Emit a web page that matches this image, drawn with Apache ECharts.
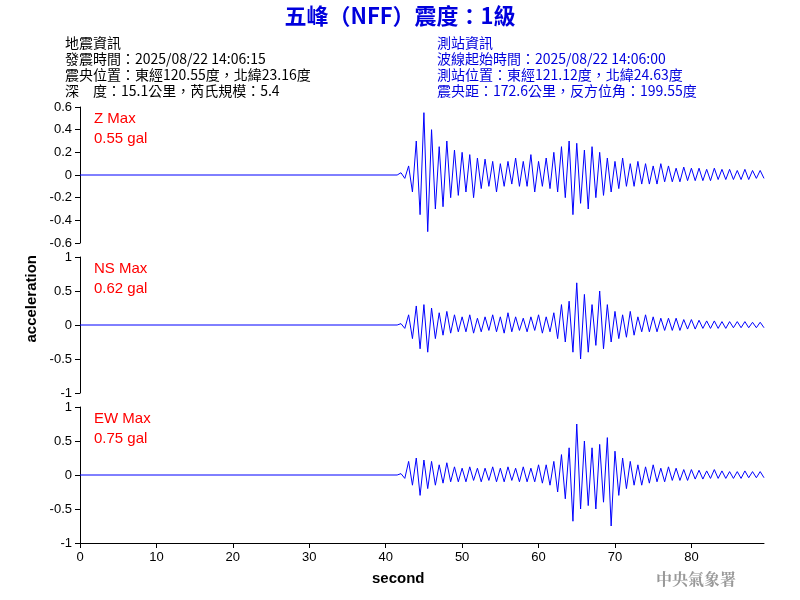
<!DOCTYPE html>
<html>
<head>
<meta charset="utf-8">
<script src="https://cdn.jsdelivr.net/npm/echarts@6/dist/echarts.min.js"></script>
<style>html,body{margin:0;padding:0;background:#fff}#chart{width:800px;height:600px}</style>
</head>
<body>
<div id="chart"></div>
<script>
// 波形資料：42秒起，每0.5秒一點
var startSec = 42, stepSec = 0.5;
var zValues = [0.02,-0.03,0.08,-0.15,0.3,-0.35,0.55,-0.5, 0.4,-0.3,0.25,-0.28,0.3,-0.2,0.22,-0.18,
  0.2,-0.15,0.18,-0.2,0.15,-0.12,0.14,-0.1, 0.12,-0.15,0.1,-0.1,0.12,-0.08,0.15,-0.1,
  0.12,-0.1,0.18,-0.15,0.12,-0.1,0.15,-0.12, 0.2,-0.15,0.25,-0.2,0.3,-0.35,0.28,-0.25,
  0.22,-0.3,0.25,-0.2,0.2,-0.18,0.15,-0.15, 0.12,-0.12,0.15,-0.1,0.1,-0.1,0.12,-0.08,
  0.1,-0.08,0.08,-0.08,0.1,-0.06,0.08,-0.06, 0.06,-0.06,0.07,-0.05,0.06,-0.05,0.06,-0.05,
  0.05,-0.05,0.06,-0.04,0.05,-0.04,0.05,-0.04, 0.04,-0.04,0.05,-0.04,0.04,-0.03,0.04,-0.03];
var nsValues = [0.02,-0.05,0.15,-0.2,0.28,-0.35,0.3,-0.4, 0.25,-0.2,0.18,-0.15,0.2,-0.12,0.15,-0.1,
  0.12,-0.1,0.15,-0.12,0.1,-0.1,0.12,-0.08, 0.15,-0.1,0.12,-0.12,0.18,-0.1,0.12,-0.08,
  0.1,-0.1,0.12,-0.08,0.15,-0.12,0.12,-0.1, 0.18,-0.2,0.3,-0.25,0.35,-0.4,0.62,-0.5,
  0.45,-0.4,0.3,-0.3,0.5,-0.35,0.3,-0.25, 0.2,-0.2,0.15,-0.18,0.2,-0.15,0.12,-0.1,
  0.15,-0.1,0.12,-0.1,0.1,-0.08,0.1,-0.08, 0.1,-0.08,0.08,-0.06,0.08,-0.06,0.07,-0.05,
  0.06,-0.05,0.06,-0.05,0.05,-0.05,0.05,-0.04, 0.05,-0.04,0.05,-0.04,0.04,-0.04,0.04,-0.04];
var ewValues = [0.02,-0.05,0.2,-0.15,0.25,-0.3,0.22,-0.2, 0.2,-0.15,0.15,-0.12,0.18,-0.1,0.12,-0.1,
  0.1,-0.1,0.12,-0.08,0.1,-0.1,0.1,-0.08, 0.12,-0.1,0.1,-0.1,0.12,-0.08,0.1,-0.1,
  0.12,-0.1,0.1,-0.1,0.15,-0.12,0.15,-0.15, 0.2,-0.25,0.3,-0.35,0.4,-0.68,0.75,-0.5,
  0.5,-0.45,0.4,-0.5,0.45,-0.4,0.55,-0.75, 0.35,-0.3,0.25,-0.2,0.2,-0.15,0.15,-0.15,
  0.12,-0.12,0.15,-0.1,0.1,-0.1,0.12,-0.08, 0.1,-0.08,0.08,-0.08,0.08,-0.06,0.07,-0.06,
  0.06,-0.05,0.08,-0.05,0.06,-0.05,0.05,-0.05, 0.05,-0.05,0.06,-0.04,0.05,-0.04,0.05,-0.04];
var maxLabels = ['Z Max', 'NS Max', 'EW Max'];
var maxValues = ['0.55 gal', '0.62 gal', '0.75 gal'];
var leftInfo = ['地震資訊', '發震時間：2025/08/22 14:06:15', '震央位置：東經120.55度，北緯23.16度', '深　度：15.1公里，芮氏規模：5.4'];
var rightInfo = ['測站資訊', '波線起始時間：2025/08/22 14:06:00', '測站位置：東經121.12度，北緯24.63度', '震央距：172.6公里，反方位角：199.55度'];

function toPoints(vals) {
  var pts = [[0, 0], [startSec - 0.5, 0]];
  for (var i = 0; i < vals.length; i++) pts.push([startSec + i * stepSec, vals[i]]);
  return pts;
}

var chart = echarts.init(document.getElementById('chart'));
var tops = [107, 257, 407];
var grids = [], xAxes = [], yAxes = [], series = [], graphics = [];
var all = [zValues, nsValues, ewValues];
var font = 'Arial, "Liberation Sans", sans-serif';
for (var k = 0; k < 3; k++) {
  grids.push({left: 80, right: 36, top: tops[k], height: 136});
  xAxes.push({type: 'value', gridIndex: k, min: 0, max: 89.5, interval: 10, show: k == 2,
    axisLine: {onZero: false, lineStyle: {color: '#000'}}, axisTick: {length: 5, lineStyle: {color: '#000'}},
    axisLabel: {color: '#000', fontSize: 13, fontFamily: font, showMaxLabel: false}, splitLine: {show: false}});
  yAxes.push({type: 'value', gridIndex: k, min: k == 0 ? -0.6 : -1, max: k == 0 ? 0.6 : 1, interval: k == 0 ? 0.2 : 0.5,
    axisLine: {show: true, lineStyle: {color: '#000'}}, axisTick: {show: true, length: 5, lineStyle: {color: '#000'}},
    axisLabel: {color: '#000', fontSize: 13, fontFamily: font, formatter: function (v) { return +v.toFixed(1); }},
    splitLine: {show: false}});
  series.push({type: 'line', xAxisIndex: k, yAxisIndex: k, data: toPoints(all[k]), symbol: 'none',
    lineStyle: {color: '#0000ff', width: 1}, animation: false});
  graphics.push({type: 'text', left: 94, top: tops[k] + 2, style: {text: maxLabels[k] + '\n' + maxValues[k],
    fill: '#ff0000', font: '15px ' + font, lineHeight: 20}});
}
graphics.push({type: 'text', left: 'center', top: 5, style: {text: '五峰（NFF）震度：1級', fill: '#0000dd',
  font: 'bold 22px "Noto Sans CJK TC", sans-serif'}});
graphics.push({type: 'text', left: 65, top: 35, style: {text: leftInfo.join('\n'), fill: '#000',
  font: '14px "Noto Sans CJK TC", sans-serif', lineHeight: 16}});
graphics.push({type: 'text', left: 437, top: 35, style: {text: rightInfo.join('\n'), fill: '#0000dd',
  font: '14px "Noto Sans CJK TC", sans-serif', lineHeight: 16}});
graphics.push({type: 'text', left: 24, top: 255, rotation: Math.PI / 2, style: {text: 'acceleration', fill: '#000',
  font: 'bold 15px ' + font}});
graphics.push({type: 'text', left: 372, top: 571, style: {text: 'second', fill: '#000', font: 'bold 15px ' + font}});
graphics.push({type: 'text', left: 656, top: 571, style: {text: '中央氣象署', fill: '#999',
  font: 'bold 16px "Noto Serif CJK TC", "Noto Sans CJK TC", serif'}});

chart.setOption({animation: false, grid: grids, xAxis: xAxes, yAxis: yAxes, series: series, graphic: graphics});
</script>
</body>
</html>
